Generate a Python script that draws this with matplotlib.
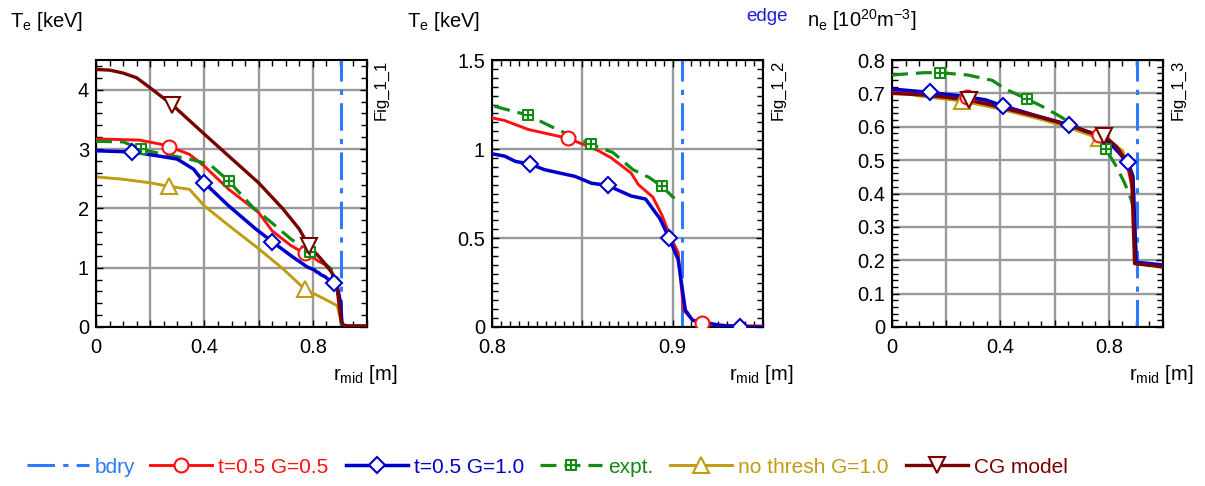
#!/usr/bin/env python3
"""
Te and ne profiles vs midplane radius: core, edge zoom and density.
"""

import matplotlib
matplotlib.use("Agg")
import matplotlib.pyplot as plt
import numpy as np
from matplotlib.lines import Line2D
from matplotlib.path import Path
from matplotlib.ticker import MultipleLocator, FuncFormatter

plt.rcParams["font.family"] = ["Liberation Sans", "DejaVu Sans"]
plt.rcParams["mathtext.fontset"] = "custom"
plt.rcParams["mathtext.rm"] = "Liberation Sans"
plt.rcParams["mathtext.it"] = "Liberation Sans:italic"

W, H = 1205, 486

# ---- data -------------------------------------------------------------
R_BDRY = 0.905

# Te [keV], t=0.5 G=0.5
te_red_r = [0, 0.16, 0.24, 0.27, 0.345, 0.4, 0.49, 0.6, 0.65, 0.72, 0.77, 0.8, 0.807,
            0.82, 0.842, 0.852, 0.859, 0.866, 0.877, 0.881, 0.889, 0.894, 0.899, 0.903,
            0.906, 0.911, 0.916, 0.926, 0.95, 1.0]
te_red = [3.17, 3.15, 3.08, 3.04, 2.91, 2.71, 2.32, 1.93, 1.62, 1.37, 1.24, 1.175, 1.16,
          1.11, 1.06, 1.02, 0.99, 0.95, 0.865, 0.80, 0.73, 0.63, 0.50, 0.42,
          0.095, 0.04, 0.025, 0.01, 0.005, 0.005]

# Te [keV], t=0.5 G=1.0
te_blue_r = [0, 0.134, 0.22, 0.3, 0.36, 0.4, 0.49, 0.59, 0.65, 0.72, 0.78, 0.8, 0.807,
             0.813, 0.821, 0.829, 0.846, 0.855, 0.864, 0.877, 0.885, 0.893, 0.898, 0.903,
             0.907, 0.911, 0.926, 0.937, 1.0]
te_blue = [2.97, 2.95, 2.89, 2.83, 2.66, 2.43, 2.04, 1.65, 1.44, 1.2, 1.01, 0.973, 0.96,
           0.93, 0.916, 0.884, 0.846, 0.808, 0.795, 0.736, 0.719, 0.608, 0.50, 0.38,
           0.095, 0.038, 0.01, 0.0, 0.0]

# Te [keV], experiment
te_expt_r = [0, 0.1, 0.165, 0.22, 0.345, 0.42, 0.49, 0.58, 0.64, 0.72, 0.79, 0.8, 0.805,
             0.82, 0.833, 0.844, 0.855, 0.867, 0.878, 0.887, 0.894, 0.901]
te_expt = [3.13, 3.12, 3.0, 2.94, 2.83, 2.74, 2.46, 2.01, 1.79, 1.48, 1.26, 1.245, 1.23,
           1.19, 1.125, 1.074, 1.027, 0.98, 0.884, 0.84, 0.79, 0.722]

# Te [keV], no threshold G=1.0
te_gold_r = [0, 0.1, 0.2, 0.27, 0.345, 0.4, 0.49, 0.6, 0.69, 0.77, 0.84, 0.89, 0.905, 0.915, 1.0]
te_gold = [2.53, 2.49, 2.43, 2.37, 2.32, 2.04, 1.71, 1.32, 0.98, 0.64, 0.48, 0.36, 0.08, 0.0, 0.0]

# Te [keV], CG model
te_cg_r = [0, 0.05, 0.1, 0.15, 0.2, 0.28, 0.4, 0.49, 0.6, 0.69, 0.75, 0.785, 0.83, 0.87,
           0.89, 0.905, 0.915, 1.0]
te_cg = [4.34, 4.33, 4.28, 4.2, 4.03, 3.75, 3.25, 2.88, 2.43, 1.99, 1.65, 1.37, 1.15, 0.92,
         0.64, 0.08, 0.02, 0.02]

# ne [1e20 m^-3]
ne_red_r = [0, 0.1, 0.276, 0.4, 0.55, 0.65, 0.765, 0.83, 0.87, 0.89, 0.897, 1.0]
ne_red = [0.706, 0.70, 0.69, 0.665, 0.63, 0.606, 0.575, 0.535, 0.48, 0.40, 0.19, 0.185]

ne_blue_r = [0, 0.14, 0.245, 0.344, 0.408, 0.53, 0.653, 0.765, 0.814, 0.87, 0.889, 0.901, 1.0]
ne_blue = [0.713, 0.703, 0.693, 0.681, 0.663, 0.633, 0.606, 0.572, 0.542, 0.494, 0.452, 0.194, 0.186]

ne_expt_r = [0, 0.047, 0.12, 0.177, 0.28, 0.37, 0.418, 0.499, 0.554, 0.616, 0.69, 0.765,
             0.79, 0.827, 0.858, 0.882, 0.895]
ne_expt = [0.755, 0.758, 0.762, 0.762, 0.755, 0.739, 0.713, 0.683, 0.661, 0.633, 0.596,
           0.562, 0.532, 0.482, 0.432, 0.383, 0.343]

ne_gold_r = [0, 0.1, 0.257, 0.4, 0.55, 0.65, 0.765, 0.85, 0.89, 0.903, 1.0]
ne_gold = [0.71, 0.692, 0.677, 0.653, 0.622, 0.598, 0.565, 0.53, 0.45, 0.19, 0.18]

ne_cg_r = [0, 0.12, 0.2, 0.285, 0.35, 0.45, 0.55, 0.65, 0.72, 0.784, 0.83, 0.87, 0.885, 0.895, 1.0]
ne_cg = [0.70, 0.695, 0.688, 0.679, 0.668, 0.648, 0.628, 0.605, 0.585, 0.572, 0.54, 0.49, 0.44, 0.19, 0.18]

# which samples carry a symbol, per panel
MK_CORE = {"red": [3, 10], "blue": [1, 5, 8, 19], "expt": [2, 6, 10], "gold": [3, 9], "cg": [5, 11]}
MK_EDGE = {"red": [14, 26], "blue": [14, 18, 22, 27], "expt": [13, 16, 20]}
MK_NE = {"red": [2, 6], "blue": [1, 4, 6, 9], "expt": [3, 7, 12], "gold": [2, 6], "cg": [3, 9]}

# ---- styles -----------------------------------------------------------
BDRY_C = "#2b7bff"
RED_C = "#ff1010"
BLUE_C = "#0000cc"
GREEN_C = "#138a13"
GOLD_C = "#c19c12"
DKRED_C = "#7a0000"

# square with a cross inside for the measured profile
box_plus = Path(
    [(-1, -1), (1, -1), (1, 1), (-1, 1), (-1, -1), (0, -1), (0, 1), (-1, 0), (1, 0)],
    [Path.MOVETO, Path.LINETO, Path.LINETO, Path.LINETO, Path.CLOSEPOLY,
     Path.MOVETO, Path.LINETO, Path.MOVETO, Path.LINETO],
)

STYLE = {
    "red": dict(color=RED_C, lw=2.1, ls="-", marker="o", ms=10, z=3),
    "blue": dict(color=BLUE_C, lw=2.5, ls="-", marker="D", ms=8, z=4),
    "expt": dict(color=GREEN_C, lw=2.3, ls=(0, (5, 2.5)), marker=box_plus, ms=7.5, z=3),
    "gold": dict(color=GOLD_C, lw=2.1, ls="-", marker="^", ms=11, z=2),
    "cg": dict(color=DKRED_C, lw=2.4, ls="-", marker="v", ms=11, z=5),
}
LABELS = {"red": "t=0.5 G=0.5", "blue": "t=0.5 G=1.0", "expt": "expt.",
          "gold": "no thresh G=1.0", "cg": "CG model"}
BDRY_LS = (0, (9, 2.7, 1.7, 2.7))

# legend entries: left edge of each sample line (px)
LEG_X = [27, 150, 346, 540, 670, 906]
LEG_Y = 467


def draw_series(ax, key, r, y, marks):
    st = STYLE[key]
    r = np.asarray(r)
    y = np.asarray(y)
    ax.plot(r, y, color=st["color"], lw=st["lw"], ls=st["ls"], zorder=st["z"])
    ax.plot(r[marks], y[marks], ls="none", marker=st["marker"], ms=st["ms"],
            mec=st["color"], mfc="white", mew=1.5, zorder=10 + st["z"])


def style_axes(ax, xlim, ylim, xstep, ystep, xminor, yminor, xlabels):
    ax.set_xlim(xlim)
    ax.set_ylim(ylim)
    ax.xaxis.set_major_locator(MultipleLocator(xstep))
    ax.yaxis.set_major_locator(MultipleLocator(ystep))
    ax.xaxis.set_minor_locator(MultipleLocator(xminor))
    ax.yaxis.set_minor_locator(MultipleLocator(yminor))
    ax.xaxis.set_major_formatter(FuncFormatter(
        lambda v, p: f"{v:g}" if any(abs(v - l) < 1e-6 for l in xlabels) else ""))
    ax.yaxis.set_major_formatter(FuncFormatter(lambda v, p: f"{round(v, 3):g}"))
    ax.grid(True, which="major", color="#9a9a9a", lw=1.7)
    ax.set_axisbelow(True)
    ax.tick_params(which="both", direction="in", top=True, right=True,
                   labelsize=14.5, color="black")
    ax.tick_params(which="major", length=5, width=1)
    ax.tick_params(which="minor", length=4, width=1)
    ax.tick_params(axis="x", pad=8)
    ax.tick_params(axis="y", pad=5)
    for s in ax.spines.values():
        s.set_linewidth(1.5)


fig = plt.figure(figsize=(W / 100, H / 100), dpi=100)

ax_w, ax_h = 271 / W, 267 / H
ax_b = (H - 327) / H
ax1 = fig.add_axes([96 / W, ax_b, ax_w, ax_h])
ax2 = fig.add_axes([492 / W, ax_b, ax_w, ax_h])
ax3 = fig.add_axes([892 / W, ax_b, ax_w, ax_h])

# core Te
ax1.axvline(R_BDRY, color=BDRY_C, lw=2.2, ls=BDRY_LS, zorder=2)
draw_series(ax1, "gold", te_gold_r, te_gold, MK_CORE["gold"])
draw_series(ax1, "red", te_red_r, te_red, MK_CORE["red"])
draw_series(ax1, "blue", te_blue_r, te_blue, MK_CORE["blue"])
draw_series(ax1, "expt", te_expt_r, te_expt, MK_CORE["expt"])
draw_series(ax1, "cg", te_cg_r, te_cg, MK_CORE["cg"])
style_axes(ax1, (0, 1.0), (0, 4.5), 0.2, 1, 0.05, 0.2, [0, 0.4, 0.8])

# edge Te
ax2.axvline(R_BDRY, color=BDRY_C, lw=2.2, ls=BDRY_LS, zorder=2)
draw_series(ax2, "red", te_red_r, te_red, MK_EDGE["red"])
draw_series(ax2, "blue", te_blue_r, te_blue, MK_EDGE["blue"])
draw_series(ax2, "expt", te_expt_r, te_expt, MK_EDGE["expt"])
style_axes(ax2, (0.8, 0.95), (0, 1.5), 0.05, 0.5, 0.005, 0.05, [0.8, 0.9])

# ne
ax3.axvline(R_BDRY, color=BDRY_C, lw=2.2, ls=BDRY_LS, zorder=2)
draw_series(ax3, "gold", ne_gold_r, ne_gold, MK_NE["gold"])
draw_series(ax3, "red", ne_red_r, ne_red, MK_NE["red"])
draw_series(ax3, "blue", ne_blue_r, ne_blue, MK_NE["blue"])
draw_series(ax3, "expt", ne_expt_r, ne_expt, MK_NE["expt"])
draw_series(ax3, "cg", ne_cg_r, ne_cg, MK_NE["cg"])
style_axes(ax3, (0, 1.0), (0, 0.8), 0.2, 0.1, 0.05, 0.02, [0, 0.4, 0.8])

# axis titles and panel tags
fig.text(10 / W, 1 - 27 / H, r"T$_\mathrm{e}$ [keV]", fontsize=14.5, va="baseline")
fig.text(407 / W, 1 - 27 / H, r"T$_\mathrm{e}$ [keV]", fontsize=14.5, va="baseline")
fig.text(746 / W, 1 - 21 / H, "edge", fontsize=13.5, color="#1c1cd8", va="baseline")
fig.text(807 / W, 1 - 27 / H, r"n$_\mathrm{e}$ [10$^{20}$m$^{-3}$]", fontsize=14.5,
         va="baseline")
for xr in (397, 793, 1193):
    fig.text(xr / W, 1 - 380 / H, r"r$_\mathrm{mid}$ [m]", fontsize=14.5,
             ha="right", va="baseline")
for xc, tag in ((381, "Fig_1_1"), (778, "Fig_1_2"), (1178, "Fig_1_3")):
    fig.text(xc / W, 1 - 60 / H, tag, fontsize=12, rotation=90, ha="center", va="top")

# legend along the bottom, one entry at a time so each sits at its own x
handles = [Line2D([], [], color=BDRY_C, lw=2.2, ls=BDRY_LS)]
labels = ["bdry"]
for key in ("red", "blue", "expt", "gold", "cg"):
    st = STYLE[key]
    handles.append(Line2D([], [], color=st["color"], lw=st["lw"], ls=st["ls"],
                          marker=st["marker"], ms=st["ms"], mec=st["color"],
                          mfc="white", mew=1.5))
    labels.append(LABELS[key])
for x0, h, lab in zip(LEG_X, handles, labels):
    fig.legend([h], [lab], loc="center left", bbox_to_anchor=(x0 / W, 1 - LEG_Y / H),
               frameon=False, fontsize=15, handlelength=2.97, handletextpad=0.3,
               borderpad=0, borderaxespad=0, labelcolor="linecolor")

fig.savefig("out.png", dpi=100)
